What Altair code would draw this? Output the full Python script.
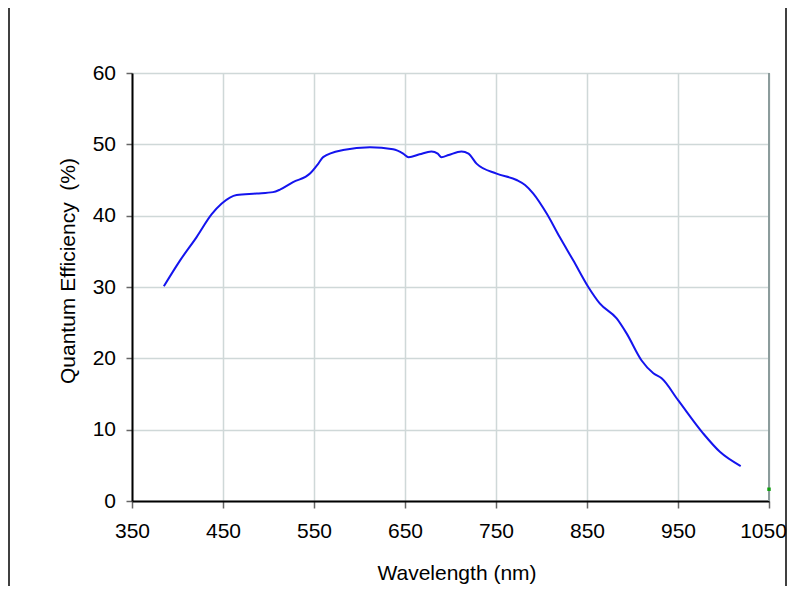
import altair as alt
import pandas as pd

wavelength = [385, 402.7, 421, 437.6, 448.6, 465, 487, 505, 512.6, 527, 545.6, 554.8, 560,
              582, 611.5, 637, 648, 654, 666, 679, 686, 690, 698, 712, 719.8, 728.6, 750.6,
              772.6, 781.9, 791, 805.7, 820, 835, 851.4, 864, 882.6, 893.5, 910, 922.9, 932,
              950.3, 977.8, 996, 1018.9]
qe = [30.1, 33.7, 37.0, 40.2, 41.7, 42.9, 43.1, 43.3, 43.65, 44.7, 45.9, 47.3, 48.2,
      49.2, 49.6, 49.3, 48.7, 48.2, 48.6, 49.0, 48.7, 48.2, 48.5, 49.0, 48.7, 47.3, 45.9,
      45.0, 44.3, 43.1, 40.3, 37.0, 33.7, 30.0, 27.7, 25.6, 23.5, 19.7, 17.9, 17.2,
      14.1, 9.45, 6.9, 4.9]
marker_x = [1050]
marker_y = [1.65]
x_ticks = [350, 450, 550, 650, 750, 850, 950, 1050]
y_ticks = [0, 10, 20, 30, 40, 50, 60]

df = pd.DataFrame({"wl": wavelength, "qe": qe})
dot = pd.DataFrame({"wl": marker_x, "qe": marker_y})
dummy = pd.DataFrame({"a": [0]})

FONT = "Liberation Sans"

xs = alt.Scale(domain=[350, 1050], nice=False, zero=False)
ys = alt.Scale(domain=[0, 60], nice=False)

line = alt.Chart(df).mark_line(color="#1414ee", strokeWidth=2, interpolate="monotone").encode(
    x=alt.X("wl:Q", scale=xs, axis=alt.Axis(
        values=x_ticks, format="d", title="Wavelength (nm)", titleFontSize=21,
        titleFontWeight="normal", titleFont=FONT, titleColor="black", titleX=324.5, titleY=78.6,
        titleBaseline="alphabetic", titleAlign="center",
        labelFontSize=21, labelFont=FONT, labelColor="black", labelPadding=12.3,
        labelOffset={"expr": "datum.value == 1050 ? -6 : 0"},
        labelFlush=False, tickSize=7, tickColor="#666666", tickWidth=1.5,
        domainColor="black", domainWidth=2, grid=True, gridColor="#cfd8d8", gridWidth=1.5)),
    y=alt.Y("qe:Q", scale=ys, axis=alt.Axis(
        values=y_ticks, title="Quantum Efficiency\u00a0 (%)", titleFontSize=21,
        titleFontWeight="normal", titleFont=FONT, titleColor="black", titleAngle=-90,
        titleX=-64, titleY=197.5, titleAlign="center", titleBaseline="middle",
        labelFontSize=21, labelFont=FONT, labelColor="black", labelPadding=10.5,
        tickSize=6, tickColor="#666666", tickWidth=1.5,
        domainColor="black", domainWidth=2, grid=True, gridColor="#cfd8d8", gridWidth=1.5)),
)

right_edge = alt.Chart(dummy).mark_rule(color="#8c9c9c", strokeWidth=2).encode(
    x=alt.datum(1050, scale=xs), y=alt.datum(0, scale=ys), y2=alt.datum(60)
)

dot_layer = alt.Chart(dot).mark_square(color="#10a010", size=12, opacity=1).encode(
    x=alt.X("wl:Q", scale=xs), y=alt.Y("qe:Q", scale=ys)
)

left_frame = alt.Chart(dummy).mark_rule(color="black", strokeWidth=1.5).encode(
    x=alt.value(-123), y=alt.value(-70), y2=alt.value(530)
)
right_frame = alt.Chart(dummy).mark_rule(color="black", strokeWidth=1.5).encode(
    x=alt.value(654), y=alt.value(-70), y2=alt.value(530)
)

chart = alt.layer(line, right_edge, dot_layer, left_frame, right_frame).properties(
    width=637, height=428,
    autosize=alt.AutoSizeParams(type="none"),
    padding={"left": 124, "top": 65, "right": 18, "bottom": 85},
).configure_view(stroke=None).configure(background="white")

chart.save("out.html", embed_options={"renderer": "svg", "actions": False})
